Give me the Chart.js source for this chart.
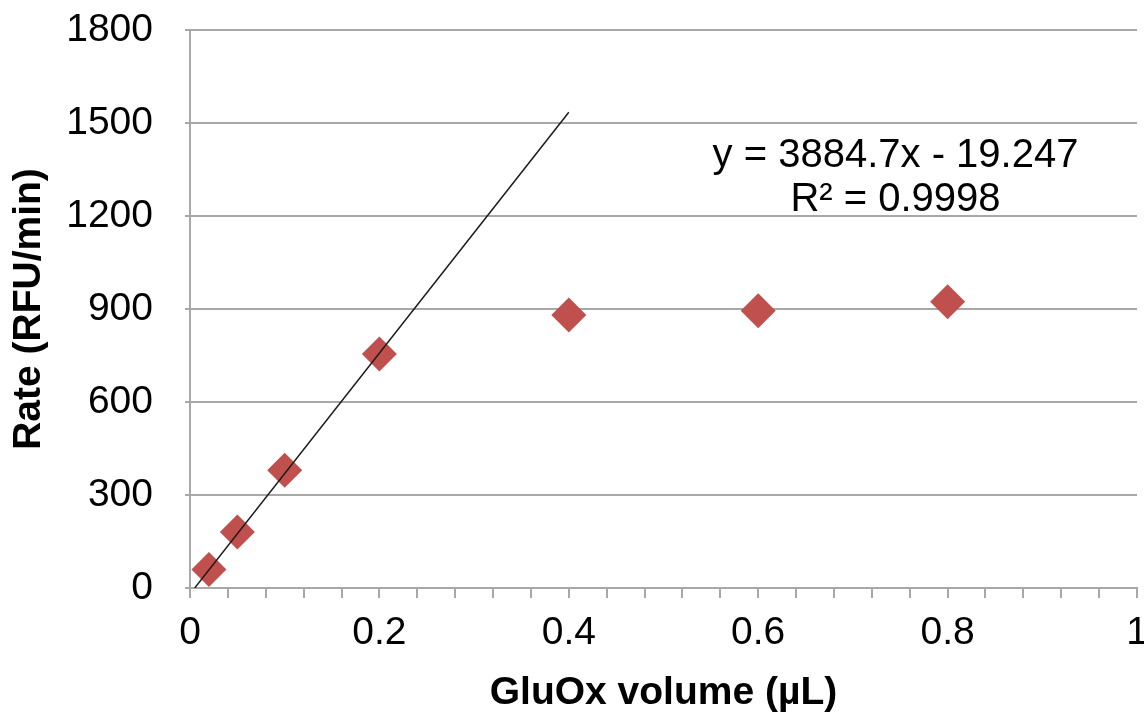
<!DOCTYPE html>
<html>
<head>
<meta charset="utf-8">
<script src="https://cdn.jsdelivr.net/npm/chart.js@4"></script>
<style>
  html, body { margin: 0; padding: 0; background: #fff; }
  #wrap { width: 1144px; height: 717px; }
</style>
</head>
<body>
<div id="wrap"><canvas id="rateChart"></canvas></div>
<script>
// GluOx volume (µL) vs rate (RFU/min)
const volumes = [0.02, 0.05, 0.1, 0.2, 0.4, 0.6, 0.8];
const rates = [60, 181, 380, 755, 881, 894, 923];

// linear fit over the low-volume points
const fitSlope = 3884.7;
const fitIntercept = -19.247;
const fitR2 = 0.9998;
const fitRange = [0.005, 0.4];

const yTicks = [0, 300, 600, 900, 1200, 1500, 1800];

const FONT = "'Liberation Sans', Arial, sans-serif";
const GRID = "#a8a8a8";

const fitLine = fitRange.map(x => ({ x, y: fitSlope * x + fitIntercept }));

// equation text box, anchored in data units
const equationLabel = {
  id: "equationLabel",
  afterDatasetsDraw(chart) {
    const { ctx, scales } = chart;
    const cx = scales.x.getPixelForValue(0.745);
    const cy = scales.y.getPixelForValue(1395);
    const sign = fitIntercept < 0 ? "- " : "+ ";
    ctx.save();
    ctx.font = "40px " + FONT;
    ctx.fillStyle = "#000";
    ctx.textAlign = "center";
    ctx.textBaseline = "middle";
    ctx.fillText("y = " + fitSlope.toFixed(1) + "x " + sign + Math.abs(fitIntercept), cx, cy);
    ctx.fillText("R² = " + fitR2, cx, cy + 44);
    ctx.restore();
  }
};

new Chart(document.getElementById("rateChart"), {
  type: "scatter",
  data: {
    datasets: [
      {
        type: "line",
        data: fitLine,
        borderColor: "#1a1a1a",
        borderWidth: 1.5,
        pointRadius: 0,
        fill: false,
        order: 0
      },
      {
        data: volumes.map((v, i) => ({ x: v, y: rates[i] })),
        pointStyle: "rectRot",
        pointRadius: 17.5,
        pointHoverRadius: 17.5,
        backgroundColor: "#c0504d",
        borderColor: "#c0504d",
        borderWidth: 0,
        order: 1
      }
    ]
  },
  options: {
    responsive: true,
    maintainAspectRatio: false,
    animation: false,
    layout: { autoPadding: false, padding: { top: 30, right: 7, left: 0, bottom: 0 } },
    plugins: {
      legend: { display: false },
      tooltip: { enabled: false }
    },
    scales: {
      x: {
        type: "linear",
        min: 0,
        max: 1,
        afterFit: s => {
          s.height = 129;
          s.paddingLeft = 0;
          s.paddingRight = 0;
        },
        ticks: {
          stepSize: 0.04,
          autoSkip: false,
          maxRotation: 0,
          padding: 12,
          color: "#000",
          font: { family: FONT, size: 39 },
          callback: v => {
            const k = v * 5;
            return Math.abs(k - Math.round(k)) < 1e-6 ? String(Math.round(k) / 5) : "";
          }
        },
        grid: {
          drawOnChartArea: false,
          tickLength: 10,
          tickColor: GRID,
          lineWidth: 2
        },
        border: { color: GRID, width: 2 },
        title: {
          display: true,
          text: "GluOx volume (µL)",
          color: "#000",
          padding: { top: 0, bottom: 0 },
          font: { family: FONT, size: 39, weight: "bold" }
        }
      },
      y: {
        min: 0,
        max: 1800,
        afterFit: s => {
          s.width = 190;
          s.paddingTop = 0;
          s.paddingBottom = 0;
        },
        afterBuildTicks: s => { s.ticks = yTicks.map(v => ({ value: v })); },
        ticks: {
          padding: 32,
          color: "#000",
          font: { family: FONT, size: 39 },
          callback: v => String(v)
        },
        grid: {
          color: GRID,
          lineWidth: 2,
          tickLength: 5,
          tickColor: GRID
        },
        border: { color: GRID, width: 2 },
        title: {
          display: true,
          text: "Rate (RFU/min)",
          color: "#000",
          padding: { top: 6, bottom: 0 },
          font: { family: FONT, size: 39, weight: "bold" }
        }
      }
    }
  },
  plugins: [equationLabel]
});
</script>
</body>
</html>
